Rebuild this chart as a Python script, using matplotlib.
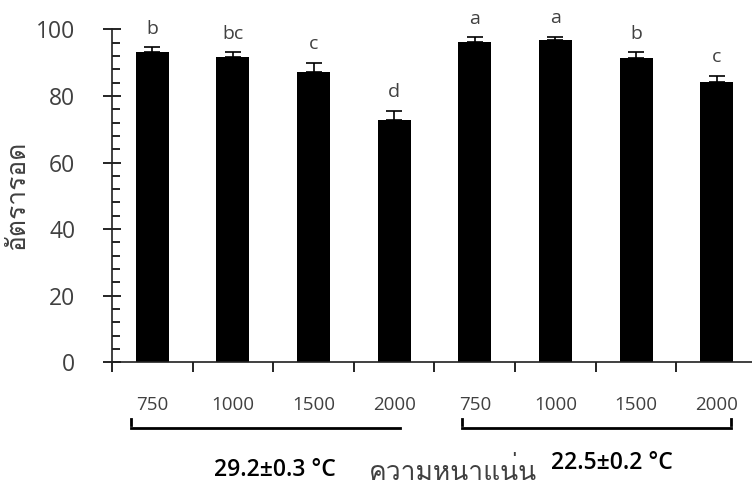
import matplotlib
matplotlib.use("Agg")
import matplotlib.pyplot as plt
from matplotlib import font_manager
from matplotlib.ft2font import FT2Font
from matplotlib.ticker import MultipleLocator, FixedLocator
import matplotlib.transforms as mtransforms

# ---- data ----
densities = ["750", "1000", "1500", "2000", "750", "1000", "1500", "2000"]
survival = [93.1, 91.6, 87.3, 72.7, 96.3, 96.7, 91.3, 84.3]
errors = [1.5, 1.5, 2.7, 2.8, 1.3, 1.0, 1.8, 1.7]
letters = ["b", "bc", "c", "d", "a", "a", "b", "c"]
groups = ["29.2±0.3 °C", "22.5±0.2 °C"]
ylabel = "อัตรารอด"
xlabel = "ความหนาแน่น"

# find a font with Thai glyphs
thai_family = None
for f in font_manager.fontManager.ttflist:
    try:
        if 0x0E2D in FT2Font(f.fname).get_charmap():
            thai_family = f.name
            break
    except Exception:
        pass
fam = ["Open Sans"] + ([thai_family] if thai_family else []) + ["DejaVu Sans"]
plt.rcParams["font.family"] = fam

fig = plt.figure(figsize=(7.52, 4.88), dpi=100)
ax = fig.add_axes([112 / 752, 125.7 / 488, 645 / 752, 333 / 488])

x = list(range(len(survival)))
ax.bar(x, survival, width=0.41, color="black", zorder=2)
for xi, v, e in zip(x, survival, errors):
    ax.errorbar(xi, v, yerr=[[0], [e]], fmt="none", ecolor="black",
                elinewidth=1.2, capsize=6, capthick=1.2, zorder=3)
for xi, v, e, l in zip(x, survival, errors, letters):
    ax.annotate(l, (xi, v + e), xytext=(0, 7), textcoords="offset points",
                ha="center", va="bottom", fontsize=14, color="#404040")

ax.set_xlim(-0.5, 7.5)
ax.set_ylim(0, 100)
ax.spines["top"].set_visible(False)
ax.spines["right"].set_visible(False)
for s in ("left", "bottom"):
    ax.spines[s].set_linewidth(1.2)
    ax.spines[s].set_color("#202020")

ax.yaxis.set_major_locator(MultipleLocator(20))
ax.yaxis.set_minor_locator(MultipleLocator(4))
ax.tick_params(axis="y", which="major", direction="inout", length=13,
               width=1.2, labelsize=16.5, labelcolor="#404040", pad=20)
ax.tick_params(axis="y", which="minor", direction="in", length=6, width=1.2)

ax.xaxis.set_major_locator(FixedLocator([i - 0.5 for i in range(len(survival))]))
ax.xaxis.set_minor_locator(FixedLocator(x))
ax.set_xticklabels([], minor=False)
ax.set_xticklabels(densities, minor=True)
ax.tick_params(axis="x", which="major", direction="out", length=7, width=1.2)
ax.tick_params(axis="x", which="minor", length=0, labelsize=13.5,
               labelcolor="#404040", pad=24)

ax.set_ylabel(ylabel, fontsize=19, color="#404040", labelpad=4)

trans = mtransforms.blended_transform_factory(ax.transData, ax.transAxes)
yl = -0.196
yt = -0.17
# bracket 1
ax.plot([-0.26, 3.07], [yl, yl], color="black", lw=2, transform=trans, clip_on=False)
ax.plot([-0.26, -0.26], [yt, yt - 0.018], color="black", lw=2, transform=trans, clip_on=False)
# bracket 2
ax.plot([3.84, 7.18], [yl, yl], color="black", lw=2, transform=trans, clip_on=False)
ax.plot([3.84, 3.84], [yt, yt - 0.018], color="black", lw=2, transform=trans, clip_on=False)
ax.plot([7.18, 7.18], [yt, yt - 0.018], color="black", lw=2, transform=trans, clip_on=False)

fig.text(275 / 752, 1 - 470 / 488, groups[0], ha="center", va="center",
         fontsize=16.5, fontweight="semibold", color="black")
fig.text(612 / 752, 1 - 463 / 488, groups[1], ha="center", va="center",
         fontsize=16.5, fontweight="semibold", color="black")
fig.text(453 / 752, 1 - 472 / 488, xlabel, ha="center", va="center",
         fontsize=19, color="#404040")

fig.savefig("out.png", dpi=100)
